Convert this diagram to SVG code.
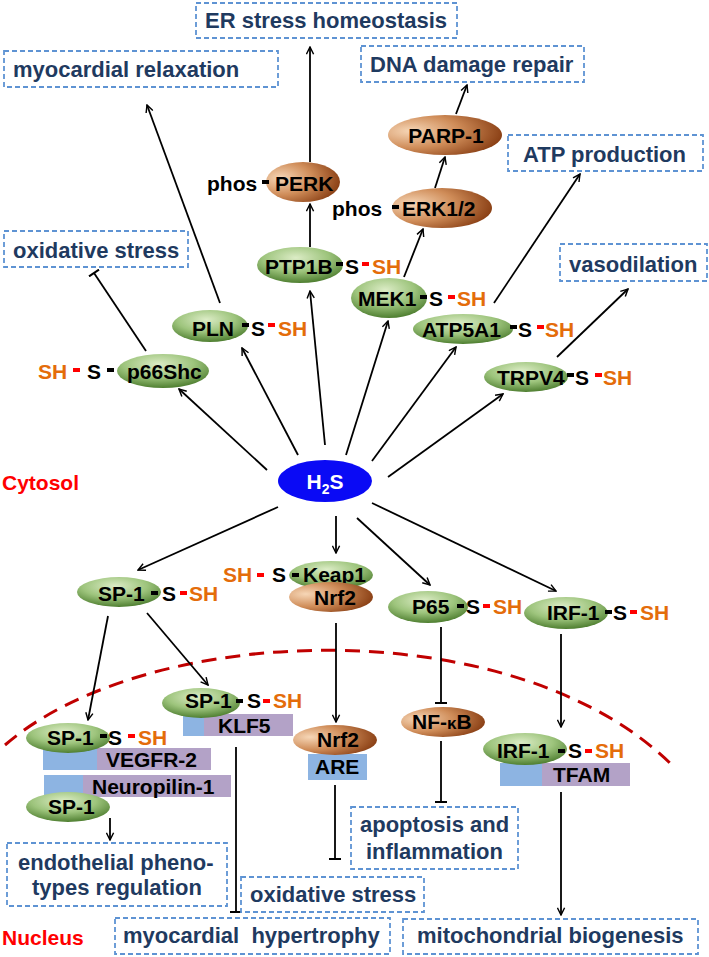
<svg xmlns="http://www.w3.org/2000/svg" width="709" height="957" viewBox="0 0 709 957">
<defs>
<radialGradient id="gG" cx="45%" cy="30%" r="70%">
<stop offset="0" stop-color="#dcecc6"/>
<stop offset="0.55" stop-color="#9dc47c"/>
<stop offset="1" stop-color="#4f7f31"/>
</radialGradient>
<radialGradient id="gB" cx="20%" cy="40%" r="85%">
<stop offset="0" stop-color="#f6d6b6"/>
<stop offset="0.5" stop-color="#cf8c58"/>
<stop offset="1" stop-color="#84390f"/>
</radialGradient>
<marker id="arr" viewBox="0 0 10 10" refX="9" refY="5" markerWidth="9" markerHeight="9" markerUnits="userSpaceOnUse" orient="auto">
<path d="M1,1 L9,5 L1,9" fill="none" stroke="#000" stroke-width="1.6"/>
</marker>
<marker id="tee" viewBox="0 0 4 12" refX="2" refY="6" markerWidth="4" markerHeight="12" markerUnits="userSpaceOnUse" orient="auto">
<path d="M2,0 L2,12" stroke="#000" stroke-width="2"/>
</marker>
</defs>
<style>
.bx{fill:#fff;stroke:#5e93d3;stroke-width:1.8;stroke-dasharray:5 3}
.bt{font-family:"Liberation Sans",Arial,sans-serif;font-weight:bold;font-size:22px;fill:#1f3a60}
.nt{font-family:"Liberation Sans",Arial,sans-serif;font-weight:bold;font-size:21px;fill:#000}
.sh{fill:#e46c0a}
.g{fill:url(#gG)}
.b{fill:url(#gB)}
.bd{fill:#000}
.rd{fill:#ff0000}
.bl{fill:#8db4e2}
.pu{fill:#b3a2c7}
.ln{stroke:#000;stroke-width:1.8;fill:none}
.a{marker-end:url(#arr)}
.t{marker-end:url(#tee)}
.lbl{font-family:"Liberation Sans",Arial,sans-serif;font-weight:bold;font-size:21px;fill:#ff0000}
</style>
<rect width="709" height="957" fill="#fff"/>
<path id="membrane" d="M5,745 C150,620 520,610 675,768" fill="none" stroke="#c00000" stroke-width="3" stroke-dasharray="15 9"/>
<text class="lbl" x="2" y="490">Cytosol</text>
<text class="lbl" x="2" y="945">Nucleus</text>
<g id="connectors">
<line class="ln a" x1="267" y1="470" x2="179" y2="389"/>
<line class="ln a" x1="298" y1="455" x2="242" y2="348"/>
<line class="ln a" x1="325" y1="445" x2="310" y2="291"/>
<line class="ln a" x1="346" y1="455" x2="388" y2="321"/>
<line class="ln a" x1="372" y1="461" x2="456" y2="347"/>
<line class="ln a" x1="388" y1="477" x2="503" y2="394"/>
<line class="ln a" x1="278" y1="507" x2="138" y2="570"/>
<line class="ln a" x1="336" y1="516" x2="336" y2="553"/>
<line class="ln a" x1="357" y1="518" x2="430" y2="585"/>
<line class="ln a" x1="372" y1="503" x2="556" y2="591"/>
<line class="ln a" x1="220" y1="303" x2="147" y2="105"/>
<line class="ln a" x1="310" y1="247" x2="310" y2="204"/>
<line class="ln a" x1="310" y1="162" x2="310" y2="47"/>
<line class="ln a" x1="404" y1="277" x2="423" y2="229"/>
<line class="ln a" x1="435" y1="188" x2="445" y2="157"/>
<line class="ln a" x1="456" y1="114" x2="467" y2="85"/>
<line class="ln a" x1="494" y1="303" x2="580" y2="174"/>
<line class="ln a" x1="557" y1="357" x2="628" y2="289"/>
<line class="ln a" x1="108" y1="616" x2="88" y2="720"/>
<line class="ln a" x1="147" y1="613" x2="208" y2="685"/>
<line class="ln a" x1="336" y1="623" x2="336" y2="722"/>
<line class="ln a" x1="561" y1="634" x2="561" y2="727"/>
<line class="ln a" x1="110" y1="818" x2="110" y2="840"/>
<line class="ln a" x1="561" y1="792" x2="561" y2="915"/>
<line class="ln t" x1="146" y1="351" x2="94" y2="273"/>
<line class="ln t" x1="441" y1="627" x2="441" y2="703"/>
<line class="ln t" x1="236" y1="747" x2="236" y2="912"/>
<line class="ln t" x1="335" y1="785" x2="335" y2="859"/>
<line class="ln t" x1="441" y1="741" x2="441" y2="802"/>
</g>
<g id="box-er"><rect class="bx" x="196" y="3" width="261" height="35"/><text class="bt" x="205" y="28">ER stress homeostasis</text></g>
<g id="box-relax"><rect class="bx" x="4" y="51" width="274" height="36"/><text class="bt" x="13" y="77">myocardial relaxation</text></g>
<g id="box-dna"><rect class="bx" x="361" y="46" width="223" height="36"/><text class="bt" x="370" y="72">DNA damage repair</text></g>
<g id="box-atp"><rect class="bx" x="508" y="135" width="195" height="36"/><text class="bt" x="523" y="162">ATP production</text></g>
<g id="box-ox1"><rect class="bx" x="4" y="231" width="184" height="36"/><text class="bt" x="13" y="258">oxidative stress</text></g>
<g id="box-vaso"><rect class="bx" x="560" y="244" width="147" height="37"/><text class="bt" x="569" y="272">vasodilation</text></g>
<g id="box-endo"><rect class="bx" x="7" y="843" width="220" height="63"/><text class="bt" x="18" y="870">endothelial pheno-</text><text class="bt" x="32" y="895">types regulation</text></g>
<g id="box-ox2"><rect class="bx" x="241" y="877" width="183" height="35"/><text class="bt" x="250" y="902">oxidative stress</text></g>
<g id="box-hyper"><rect class="bx" x="115" y="918" width="275" height="36"/><text class="bt" x="123" y="943" xml:space="preserve">myocardial  hypertrophy</text></g>
<g id="box-apop"><rect class="bx" x="351" y="807" width="167" height="62"/><text class="bt" x="360" y="832">apoptosis and</text><text class="bt" x="366" y="859">inflammation</text></g>
<g id="box-mito"><rect class="bx" x="403" y="919" width="295" height="35"/><text class="bt" x="417" y="943">mitochondrial biogenesis</text></g>
<g id="h2s"><ellipse cx="325" cy="481" rx="47" ry="21" fill="#0a0af5"/><text class="nt" x="325" y="489" text-anchor="middle" fill="#fff" style="fill:#fff">H<tspan font-size="14" dy="5">2</tspan><tspan dy="-5">S</tspan></text></g>
<g id="perk"><ellipse class="b" cx="303" cy="182" rx="37" ry="20"/><text class="nt" x="275" y="191">PERK</text><text class="nt" x="207" y="191">phos</text><rect class="bd" x="262" y="180" width="7" height="4"/></g>
<g id="parp1"><ellipse class="b" cx="445" cy="135" rx="57" ry="20"/><text class="nt" x="446" y="143" text-anchor="middle">PARP-1</text></g>
<g id="erk"><ellipse class="b" cx="442" cy="208" rx="50" ry="20"/><text class="nt" x="402" y="216">ERK1/2</text><text class="nt" x="332" y="216">phos</text><rect class="bd" x="392" y="205" width="7" height="4"/></g>
<g id="ptp1b"><ellipse class="g" cx="300" cy="265" rx="43" ry="18"/><text class="nt" x="265" y="274">PTP1B</text><rect class="bd" x="336" y="262" width="7" height="4"/><text class="nt" x="345" y="274">S</text><rect class="rd" x="362" y="262" width="7" height="4"/><text class="nt sh" x="372" y="274">SH</text></g>
<g id="mek1"><ellipse class="g" cx="389" cy="298" rx="38" ry="20"/><text class="nt" x="358" y="306">MEK1</text><rect class="bd" x="420" y="295" width="7" height="4"/><text class="nt" x="429" y="306">S</text><rect class="rd" x="448" y="295" width="7" height="4"/><text class="nt sh" x="457" y="306">SH</text></g>
<g id="atp5a1"><ellipse class="g" cx="463" cy="329" rx="50" ry="15"/><text class="nt" x="422" y="337">ATP5A1</text><rect class="bd" x="510" y="325" width="7" height="4"/><text class="nt" x="518" y="337">S</text><rect class="rd" x="537" y="325" width="7" height="4"/><text class="nt sh" x="545" y="337">SH</text></g>
<g id="trpv4"><ellipse class="g" cx="526" cy="377" rx="42" ry="15"/><text class="nt" x="497" y="385">TRPV4</text><rect class="bd" x="567" y="373" width="7" height="4"/><text class="nt" x="575" y="385">S</text><rect class="rd" x="595" y="373" width="7" height="4"/><text class="nt sh" x="603" y="385">SH</text></g>
<g id="pln"><ellipse class="g" cx="210" cy="326" rx="38" ry="16"/><text class="nt" x="192" y="336">PLN</text><rect class="bd" x="242" y="323" width="7" height="4"/><text class="nt" x="251" y="336">S</text><rect class="rd" x="268" y="323" width="7" height="4"/><text class="nt sh" x="278" y="336">SH</text></g>
<g id="p66shc"><ellipse class="g" cx="163" cy="371" rx="46" ry="17"/><text class="nt" x="127" y="379">p66Shc</text><text class="nt sh" x="38" y="379">SH</text><rect class="rd" x="73" y="368" width="7" height="4"/><text class="nt" x="87" y="379">S</text><rect class="bd" x="107" y="368" width="7" height="4"/></g>
<g id="keap1-nrf2"><ellipse class="g" cx="331" cy="575" rx="42" ry="14"/><text class="nt" x="303" y="582">Keap1</text><text class="nt sh" x="223" y="582">SH</text><rect class="rd" x="257" y="573" width="7" height="4"/><text class="nt" x="272" y="582">S</text><rect class="bd" x="292" y="573" width="7" height="4"/><ellipse class="b" cx="331" cy="597" rx="42" ry="15"/><text class="nt" x="335" y="605" text-anchor="middle">Nrf2</text></g>
<g id="sp1-cyto"><ellipse class="g" cx="119" cy="592" rx="42" ry="15"/><text class="nt" x="98" y="601">SP-1</text><rect class="bd" x="151" y="591" width="7" height="4"/><text class="nt" x="162" y="601">S</text><rect class="rd" x="180" y="591" width="7" height="4"/><text class="nt sh" x="189" y="601">SH</text></g>
<g id="p65"><ellipse class="g" cx="428" cy="607" rx="40" ry="16"/><text class="nt" x="412" y="614">P65</text><rect class="bd" x="457" y="604" width="7" height="4"/><text class="nt" x="466" y="614">S</text><rect class="rd" x="483" y="604" width="7" height="4"/><text class="nt sh" x="493" y="614">SH</text></g>
<g id="irf1-cyto"><ellipse class="g" cx="566" cy="613" rx="42" ry="16"/><text class="nt" x="547" y="620">IRF-1</text><rect class="bd" x="605" y="610" width="7" height="4"/><text class="nt" x="613" y="620">S</text><rect class="rd" x="630" y="610" width="7" height="4"/><text class="nt sh" x="640" y="620">SH</text></g>
<g id="sp1-klf5"><rect class="bl" x="183" y="714" width="21" height="22"/><rect class="pu" x="204" y="714" width="89" height="22"/><text class="nt" x="218" y="733">KLF5</text><ellipse class="g" cx="201" cy="703" rx="39" ry="15"/><text class="nt" x="185" y="708">SP-1</text><rect class="bd" x="236" y="699" width="7" height="4"/><text class="nt" x="247" y="708">S</text><rect class="rd" x="263" y="699" width="7" height="4"/><text class="nt sh" x="273" y="708">SH</text></g>
<g id="sp1-vegfr2"><rect class="bl" x="43" y="748" width="54" height="22"/><rect class="pu" x="97" y="748" width="114" height="22"/><text class="nt" x="106" y="767">VEGFR-2</text><ellipse class="g" cx="68" cy="738" rx="42" ry="15"/><text class="nt" x="47" y="745">SP-1</text><rect class="bd" x="100" y="734" width="7" height="4"/><text class="nt" x="108" y="745">S</text><rect class="rd" x="128" y="734" width="7" height="4"/><text class="nt sh" x="138" y="745">SH</text></g>
<g id="neuropilin"><rect class="bl" x="44" y="775" width="39" height="22"/><rect class="pu" x="83" y="775" width="148" height="22"/><text class="nt" x="92" y="794">Neuropilin-1</text></g>
<g id="sp1-bottom"><ellipse class="g" cx="68" cy="807" rx="42" ry="15"/><text class="nt" x="48" y="814">SP-1</text></g>
<g id="nrf2-are"><rect class="bl" x="308" y="754" width="59" height="26"/><text class="nt" x="315" y="774">ARE</text><ellipse class="b" cx="335" cy="740" rx="42" ry="15"/><text class="nt" x="317" y="747">Nrf2</text></g>
<g id="nfkb"><ellipse class="b" cx="443" cy="722" rx="42" ry="15"/><text class="nt" x="412" y="729">NF-<tspan font-size="17">κ</tspan>B</text></g>
<g id="irf1-tfam"><rect class="bl" x="500" y="763" width="42" height="23"/><rect class="pu" x="542" y="763" width="88" height="23"/><text class="nt" x="553" y="782">TFAM</text><ellipse class="g" cx="525" cy="749" rx="42" ry="16"/><text class="nt" x="497" y="758">IRF-1</text><rect class="bd" x="558" y="749" width="7" height="4"/><text class="nt" x="568" y="758">S</text><rect class="rd" x="585" y="749" width="7" height="4"/><text class="nt sh" x="595" y="758">SH</text></g>
</svg>
